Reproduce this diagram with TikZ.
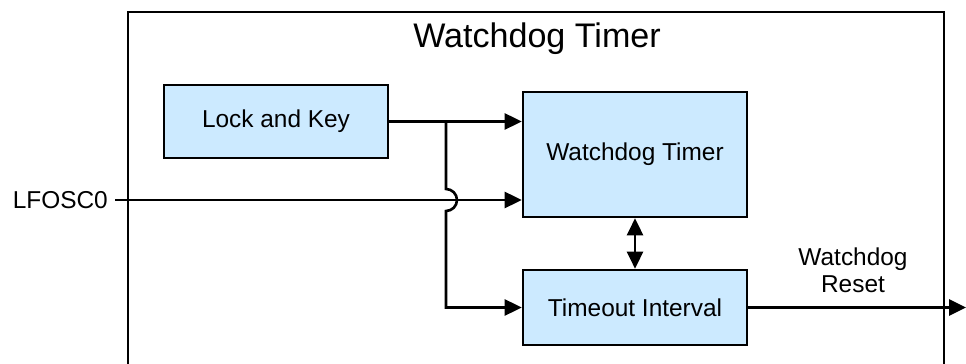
\documentclass[tikz,border=0pt]{standalone}
\usepackage{fontspec}
\setmainfont{Liberation Sans}
\usetikzlibrary{arrows.meta,positioning}
\definecolor{wdblue}{RGB}{204,234,255}

\begin{document}
\begin{tikzpicture}[x=0.02cm, y=-0.02cm, >={Triangle[length=0.34cm, width=0.32cm]}, line width=1.5pt,
  blk/.style={draw, fill=wdblue, minimum width=4.48cm, inner sep=0pt, font=\fontsize{13.9}{15.3}\selectfont},
  lbl/.style={font=\fontsize{13.9}{15.3}\selectfont}]
  \useasboundingbox (0,0) rectangle (966,364);
  \draw (128,364) -- (128,12) -- (944,12) -- (944,364);
  \node[font=\fontsize{19.4}{23}\selectfont, anchor=base] (title) at (537,48) {Watchdog Timer};
  \node[blk, minimum height=1.46cm] (lock) at (276,121.5) {Lock and Key};
  \node[blk, minimum height=2.5cm] (wdt) at (635,154.5) {Watchdog Timer};
  \node[blk, minimum height=1.5cm] (tmo) at (635,307.5) {Timeout Interval};
  \node[lbl, anchor=east] (osc) at (115,200) {LFOSC0};
  \node[lbl, align=center] (rstlbl) at (853,270) {Watchdog\\Reset};
  \coordinate (jn) at (446,121.5);
  \coordinate (out) at (966,307.5);
  \draw (lock.east) -- (jn);
  \draw[->] (jn) -- (jn -| wdt.west);
  \draw[->] (osc.east) -- (osc.east -| wdt.west);
  \draw[->] (jn) -- ([yshift=0.22cm]jn |- osc.east) arc[start angle=90, end angle=-90, radius=0.22cm] |- (tmo.west);
  \draw[<->] (wdt) -- (tmo);
  \draw[->] (tmo.east) -- (out);
\end{tikzpicture}
\end{document}
